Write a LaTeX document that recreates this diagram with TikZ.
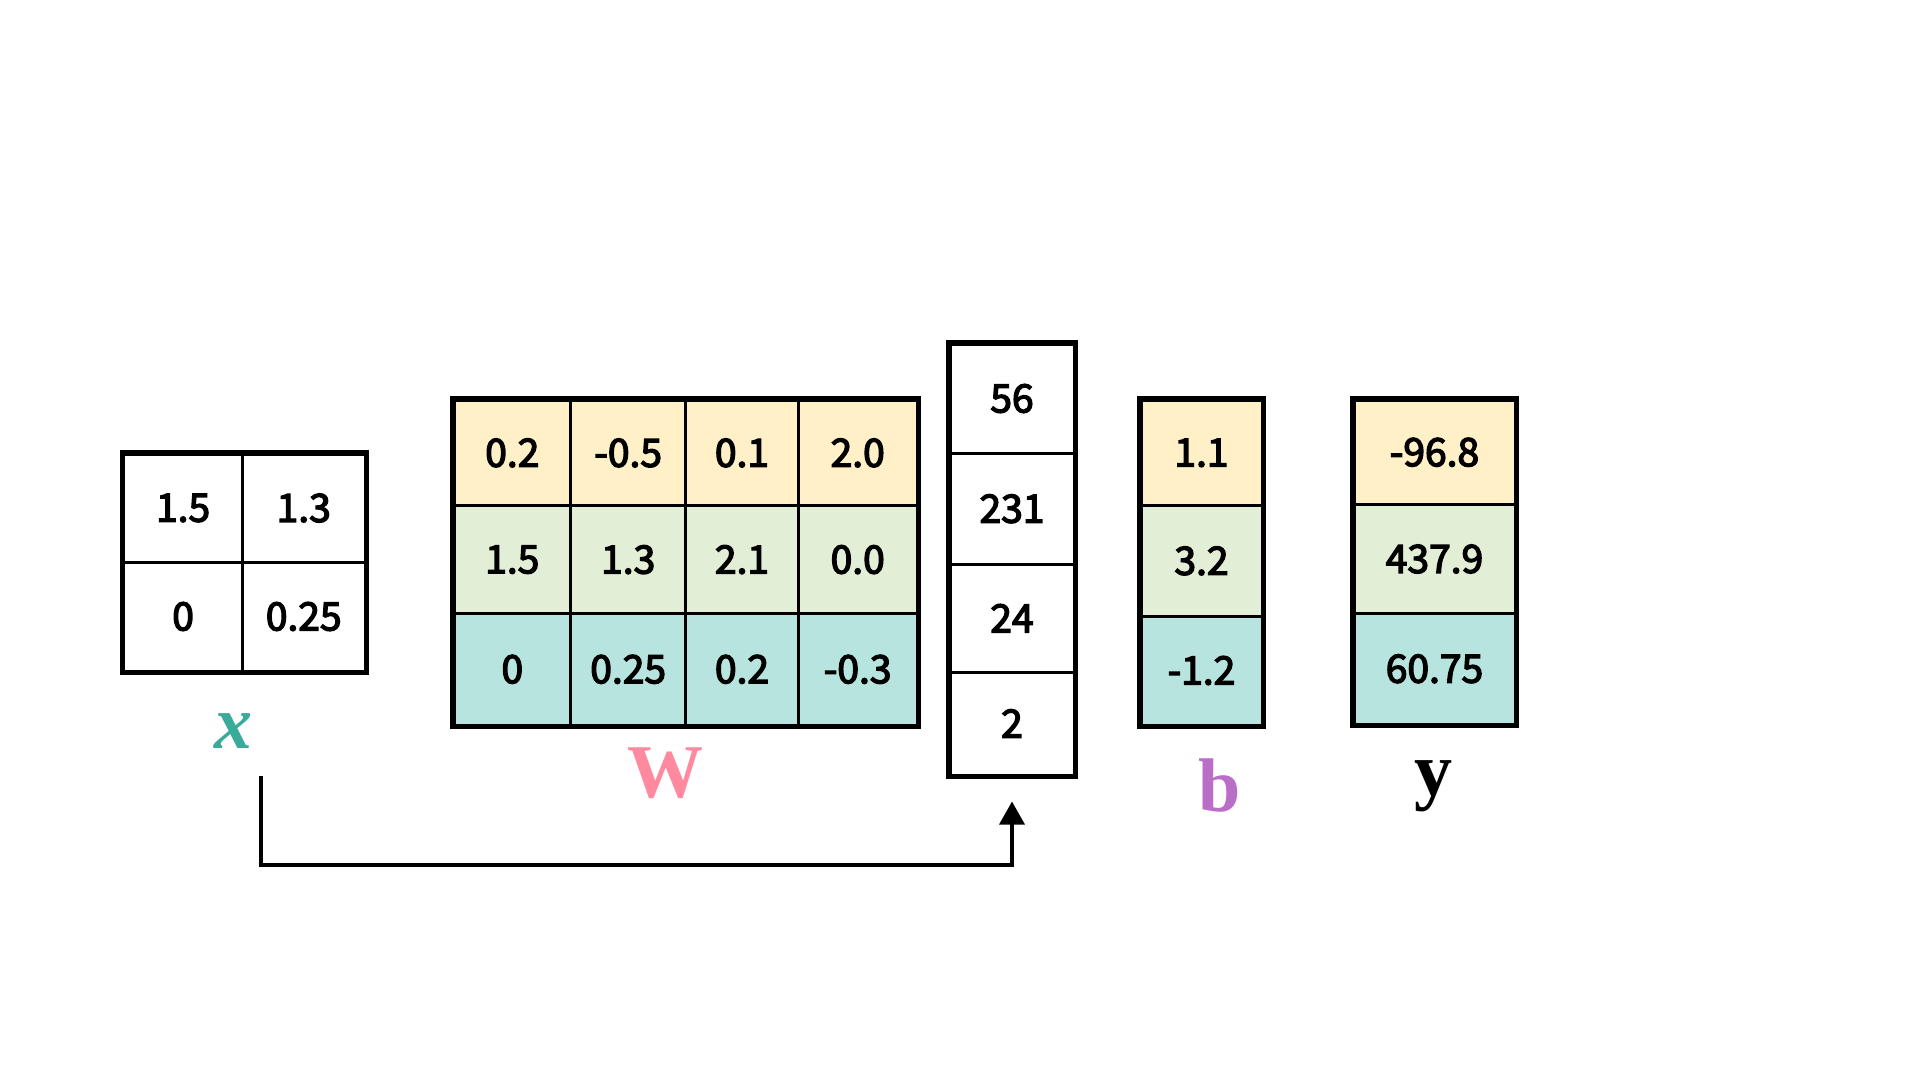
\documentclass[tikz,border=0pt]{standalone}
\usepackage{fontspec}
\setmainfont{Liberation Serif}
\newfontfamily\cellfont[FakeBold=3.5]{Noto Sans CJK SC}
\usetikzlibrary{arrows.meta}
\definecolor{rowA}{RGB}{255,240,200}
\definecolor{rowB}{RGB}{226,239,214}
\definecolor{rowC}{RGB}{184,228,223}
\definecolor{xcol}{RGB}{58,170,154}
\definecolor{wcol}{RGB}{255,138,160}
\definecolor{bcol}{RGB}{187,110,200}
\tikzset{
  cell/.style={draw=black, line width=3pt, inner sep=0pt, font=\cellfont\fontsize{39}{44}\selectfont},
  outer/.style={draw=black, line width=5pt},
  lbl/.style={anchor=base, inner sep=0pt, font=\fontsize{76}{80}\selectfont\bfseries},
  conn/.style={draw=black, line width=3.5pt, -{Triangle[length=23pt,width=25pt]}}
}
\begin{document}
\begin{tikzpicture}[x=1pt,y=-1pt]
\useasboundingbox (0,0) rectangle (1920,1080);
\fill[white] (0,0) rectangle (1920,1080);
% x matrix
\node[cell, minimum width=118.8pt, minimum height=108pt] (x11) at (183.1,508) {1.5};
\node[cell, minimum width=122.5pt, minimum height=108pt] (x12) at (303.75,508) {1.3};
\node[cell, minimum width=118.8pt, minimum height=109pt] (x21) at (183.1,616.5) {0};
\node[cell, minimum width=122.5pt, minimum height=109pt] (x22) at (303.75,616.5) {0.25};
\draw[outer] (x11.north west) rectangle (x22.south east);
% W matrix
\node[cell, fill=rowA, minimum width=116.6pt, minimum height=105.7pt] (w11) at (512.3,452.9) {0.2};
\node[cell, fill=rowA, minimum width=115.1pt, minimum height=105.7pt] (w12) at (628.2,452.9) {-0.5};
\node[cell, fill=rowA, minimum width=112.7pt, minimum height=105.7pt] (w13) at (742,452.9) {0.1};
\node[cell, fill=rowA, minimum width=118.6pt, minimum height=105.7pt] (w14) at (857.7,452.9) {2.0};
\node[cell, fill=rowB, minimum width=116.6pt, minimum height=107.8pt] (w21) at (512.3,559.6) {1.5};
\node[cell, fill=rowB, minimum width=115.1pt, minimum height=107.8pt] (w22) at (628.2,559.6) {1.3};
\node[cell, fill=rowB, minimum width=112.7pt, minimum height=107.8pt] (w23) at (742,559.6) {2.1};
\node[cell, fill=rowB, minimum width=118.6pt, minimum height=107.8pt] (w24) at (857.7,559.6) {0.0};
\node[cell, fill=rowC, minimum width=116.6pt, minimum height=111.5pt] (w31) at (512.3,669.3) {0};
\node[cell, fill=rowC, minimum width=115.1pt, minimum height=111.5pt] (w32) at (628.2,669.3) {0.25};
\node[cell, fill=rowC, minimum width=112.7pt, minimum height=111.5pt] (w33) at (742,669.3) {0.2};
\node[cell, fill=rowC, minimum width=118.6pt, minimum height=111.5pt] (w34) at (857.7,669.3) {-0.3};
\draw[outer] (w11.north west) rectangle (w34.south east);
% intermediate vector
\node[cell, minimum width=124pt, minimum height=109pt] (v1) at (1012,398.5) {56};
\node[cell, minimum width=124pt, minimum height=111.5pt] (v2) at (1012,508.75) {231};
\node[cell, minimum width=124pt, minimum height=107.5pt] (v3) at (1012,618.25) {24};
\node[cell, minimum width=124pt, minimum height=103pt] (v4) at (1012,723.5) {2};
\draw[outer] (v1.north west) rectangle (v4.south east);
% b vector
\node[cell, fill=rowA, minimum width=121pt, minimum height=105.7pt] (b1) at (1201.5,452.85) {1.1};
\node[cell, fill=rowB, minimum width=121pt, minimum height=110.3pt] (b2) at (1201.5,560.85) {3.2};
\node[cell, fill=rowC, minimum width=121pt, minimum height=109pt] (b3) at (1201.5,670.5) {-1.2};
\draw[outer] (b1.north west) rectangle (b3.south east);
% y vector
\node[cell, fill=rowA, minimum width=161pt, minimum height=104.5pt] (y1) at (1434.5,452.25) {-96.8};
\node[cell, fill=rowB, minimum width=161pt, minimum height=109pt] (y2) at (1434.5,559) {437.9};
\node[cell, fill=rowC, minimum width=161pt, minimum height=110.5pt] (y3) at (1434.5,668.75) {60.75};
\draw[outer] (y1.north west) rectangle (y3.south east);
% labels
\node[lbl, text=xcol, font=\fontsize{76}{80}\selectfont\bfseries\itshape] (xl) at (233,748) {x};
\node[lbl, text=wcol] (wl) at (665,797) {W};
\node[lbl, text=bcol] (bl) at (1220,811) {b};
\node[lbl, text=black] (yl) at (1433,795) {y};
% connector
\coordinate (xs) at (261,776);
\coordinate (xb) at (261,865);
\draw[conn] (xs) -- (xb) -| ([yshift=-25pt]v4.south);
\end{tikzpicture}
\end{document}
